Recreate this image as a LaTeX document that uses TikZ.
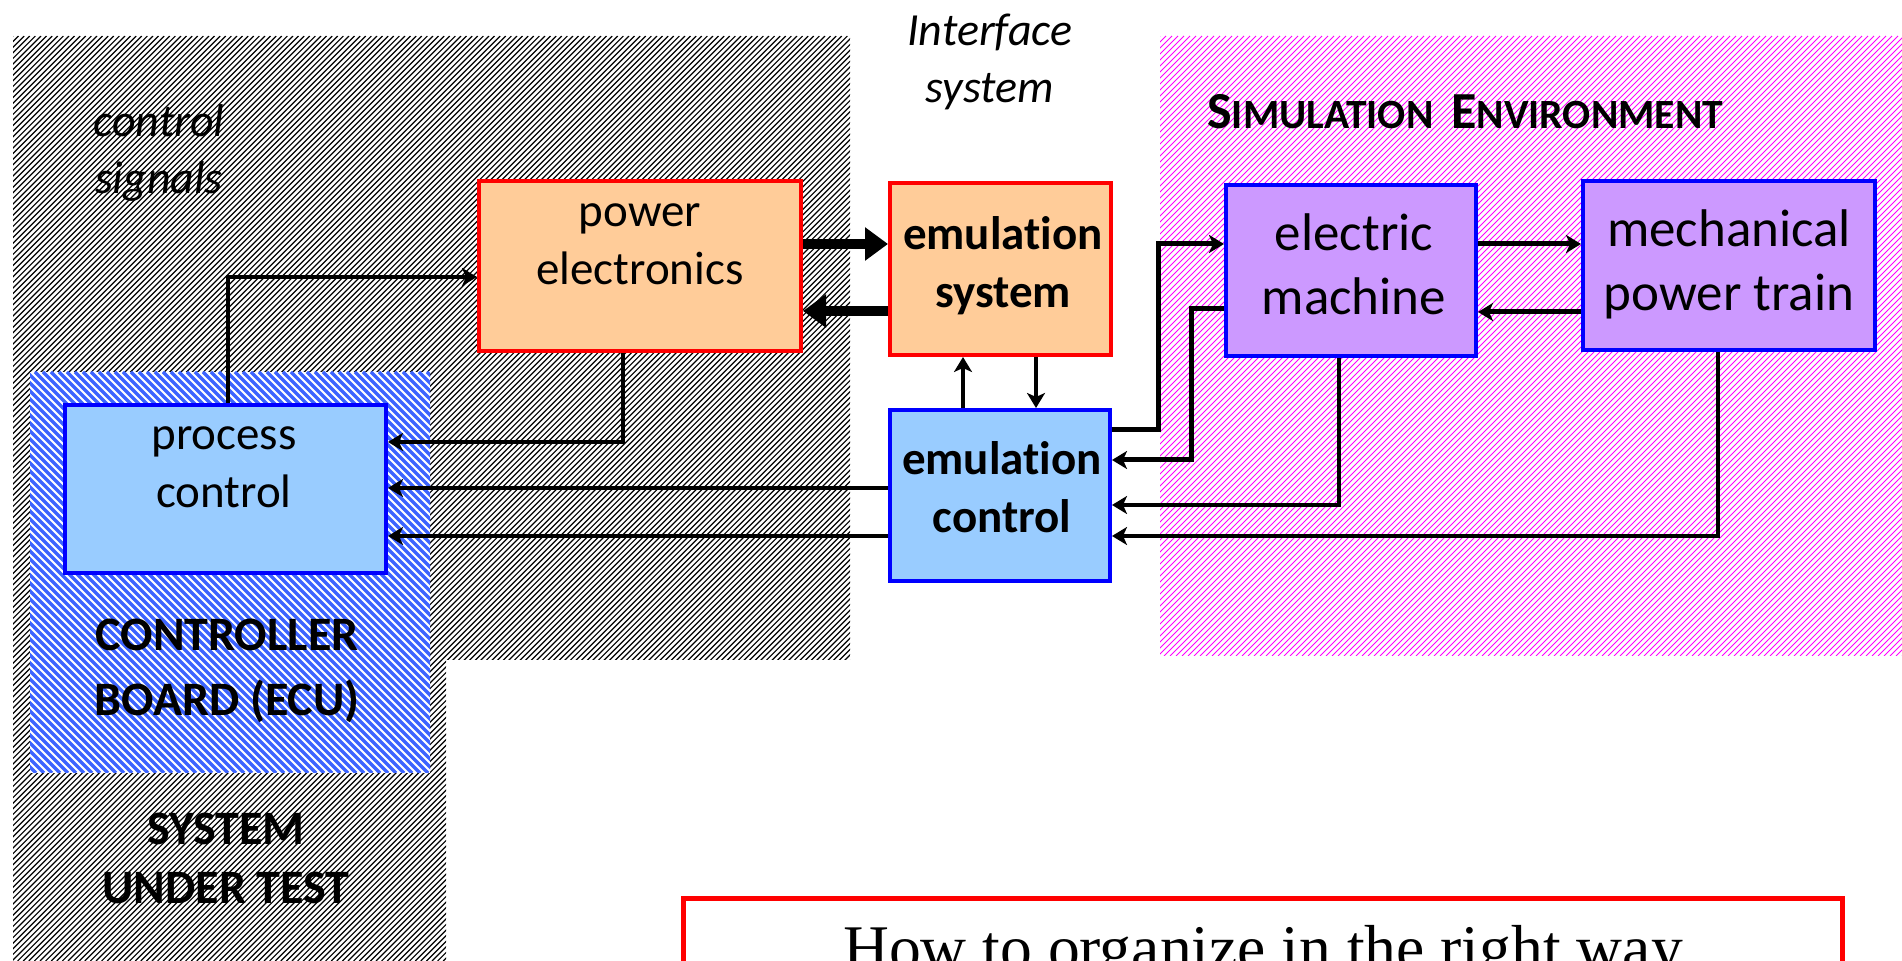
\documentclass[tikz,border=0pt]{standalone}
\usepackage{fontspec}
\setmainfont{Carlito}[Ligatures=NoCommon]
\newfontfamily\captionserif{Liberation Serif}
\usetikzlibrary{arrows.meta,fit}

\definecolor{peach}{RGB}{255,204,153}
\definecolor{skyfill}{RGB}{153,204,255}
\definecolor{lilac}{RGB}{204,153,255}
\definecolor{hatchblue}{RGB}{60,100,255}
\definecolor{hatchpink}{RGB}{255,0,255}
\definecolor{boxred}{RGB}{255,0,0}
\definecolor{boxblue}{RGB}{0,0,255}

% fake small capitals: large initial, smaller rest
\newcommand\capsword[2]{{\fontsize{26pt}{30pt}\selectfont #1}{\fontsize{20.8pt}{25pt}\selectfont #2}}

\tikzset{
  block/.style={draw, line width=2pt, inner sep=0pt},
  powerblock/.style={block, draw=boxred, fill=peach},
  ctrlblock/.style={block, draw=boxblue, fill=skyfill},
  simblock/.style={block, draw=boxblue, fill=lilac},
  boxtext/.style={inner sep=0pt, align=center, font=\fontsize{23.5pt}{29pt}\selectfont},
  boldtext/.style={boxtext, font=\bfseries\fontsize{23.5pt}{29pt}\selectfont},
  bigtext/.style={inner sep=0pt, align=center, font=\fontsize{26.5pt}{32pt}\selectfont},
  italabel/.style={inner sep=0pt, align=center, font=\itshape\fontsize{23pt}{28.5pt}\selectfont},
  conn/.style={line width=2pt, -{Stealth[length=7.5pt,width=9pt,inset=2pt]}},
  heavyconn/.style={line width=2.5pt, -{Stealth[length=7.5pt,width=9pt,inset=2pt]}},
  bigarrow/.style={line width=5pt, -{Triangle[length=11.5pt,width=16pt]}},
  greyhatch/.style={line width=0.6pt, black},
  bluehatch/.style={line width=1.7pt, hatchblue},
  pinkhatch/.style={line width=0.45pt, hatchpink},
}

\begin{document}
\begin{tikzpicture}[x=0.5pt,y=-0.5pt]
\useasboundingbox (0,0) rectangle (1902,961);
\clip (0,0) rectangle (1902,961);

% system under test: dark diagonal hatching on an L-shaped area
\begin{scope}
  \clip (13,36) -- (850,36) -- (850,660) -- (446,660) -- (446,961) -- (13,961) -- cycle;
  \fill[white] (13,36) rectangle (850,961);
  \foreach \c in {49,54.6,...,1815}
    \draw[greyhatch] (\c-961,961) -- (\c-36,36);
\end{scope}

% controller board: blue back-diagonal hatching
\begin{scope}
  \clip (30,372) rectangle (430,773);
  \fill[white] (30,372) rectangle (430,773);
  \foreach \c in {-745,-737,...,62}
    \draw[bluehatch] (\c+372,372) -- (\c+773,773);
\end{scope}

% simulation environment: magenta diagonal hatching
\begin{scope}
  \clip (1160,36) rectangle (1902,656);
  \fill[white] (1160,36) rectangle (1902,656);
  \foreach \c in {1196,1202,...,2560}
    \draw[pinkhatch] (\c-656,656) -- (\c-36,36);
\end{scope}

% region titles
\node[italabel] (iface) at (990,63) {\strut Interface\\\strut system};
\node[italabel] (ctrlsig) at (159,154) {\strut control\\\strut signals};
\node[anchor=base west, inner sep=0pt, font=\bfseries] (simenv) at (1207,129)
  {\capsword{S}{IMULATION}\hspace{9pt}\capsword{E}{NVIRONMENT}};
\node[inner sep=0pt, align=center, font=\bfseries\fontsize{24pt}{32.5pt}\selectfont] (ecu) at (227,670)
  {\strut CONTROLLER\\\strut BOARD (ECU)};
\node[inner sep=0pt, align=center, font=\bfseries\fontsize{24pt}{29.5pt}\selectfont] (sut) at (226,862)
  {\strut SYSTEM\\\strut UNDER TEST};

% blocks
\node[powerblock, fit={(479,181) (801,351)}] (pe) {};
\node[powerblock, fit={(890,183) (1111,355)}] (es) {};
\node[ctrlblock, fit={(890,410) (1110,581)}] (ec) {};
\node[ctrlblock, fit={(65,405) (386,573)}] (pc) {};
\node[simblock, fit={(1226,185) (1476,356)}] (em) {};
\node[simblock, fit={(1583,181) (1875,350)}] (mpt) {};

\node[boxtext] (pe-t) at (640,244) {\strut power\\\strut electronics};
\node[boldtext] (es-t) at (1003,267) {\strut emulation\\\strut system};
\node[boldtext] (ec-t) at (1002,492) {\strut emulation\\\strut control};
\node[boxtext] (pc-t) at (224,467) {\strut process\\\strut control};
\node[bigtext] (em-t) at (1354,270) {\strut electric\\\strut machine};
\node[bigtext] (mpt-t) at (1729,266) {\strut mechanical\\\strut power train};

% bend and level points of the signal lines
\coordinate (k1) at (228,277);
\coordinate (k2) at (623,442);
\coordinate (k3) at (0,488);
\coordinate (k4) at (0,536);
\coordinate (k5) at (0,244);
\coordinate (k6) at (0,311);
\coordinate (k7) at (963,0);
\coordinate (k8) at (1036,0);
\coordinate (k9) at (1158,430);
\coordinate (k10) at (1158,244);
\coordinate (k11) at (1191,309);
\coordinate (k12) at (1191,460);
\coordinate (k13) at (1339,505);
\coordinate (k14) at (1718,536);
\coordinate (k15) at (0,312);

% signals of the system under test
\draw[conn] (pc.north -| k1) |- (pe.west |- k1);
\draw[conn] (pe.south -| k2) |- (pc.east |- k2);
\draw[conn] (ec.west |- k3) -- (pc.east |- k3);
\draw[conn] (ec.west |- k4) -- (pc.east |- k4);

% power flow through the interface
\draw[bigarrow] (pe.east |- k5) -- (es.west |- k5);
\draw[bigarrow] (es.west |- k6) -- (pe.east |- k6);
\draw[conn] (ec.north -| k7) -- (es.south -| k7);
\draw[conn] (es.south -| k8) -- (ec.north -| k8);

% simulation environment links
\draw[heavyconn] (ec.east |- k9) -- (k9) -- (k10) -- (em.west |- k10);
\draw[heavyconn] (em.west |- k11) -- (k11) -- (k12) -- (ec.east |- k12);
\draw[conn] (em.south -| k13) |- (ec.east |- k13);
\draw[conn] (mpt.south -| k14) |- (ec.east |- k14);
\draw[heavyconn] (em.east |- k5) -- (mpt.west |- k5);
\draw[heavyconn] (mpt.west |- k15) -- (em.east |- k15);

% question box
\node[draw=boxred, line width=2.5pt, inner sep=0pt, fit={(683.5,898.5) (1842.5,1010)}] (question) {};
\node[anchor=base, inner sep=0pt, font=\captionserif\fontsize{31.8pt}{38pt}\selectfont] (question-t) at (1263,970)
  {How to organize in the right way};
\end{tikzpicture}
\end{document}
